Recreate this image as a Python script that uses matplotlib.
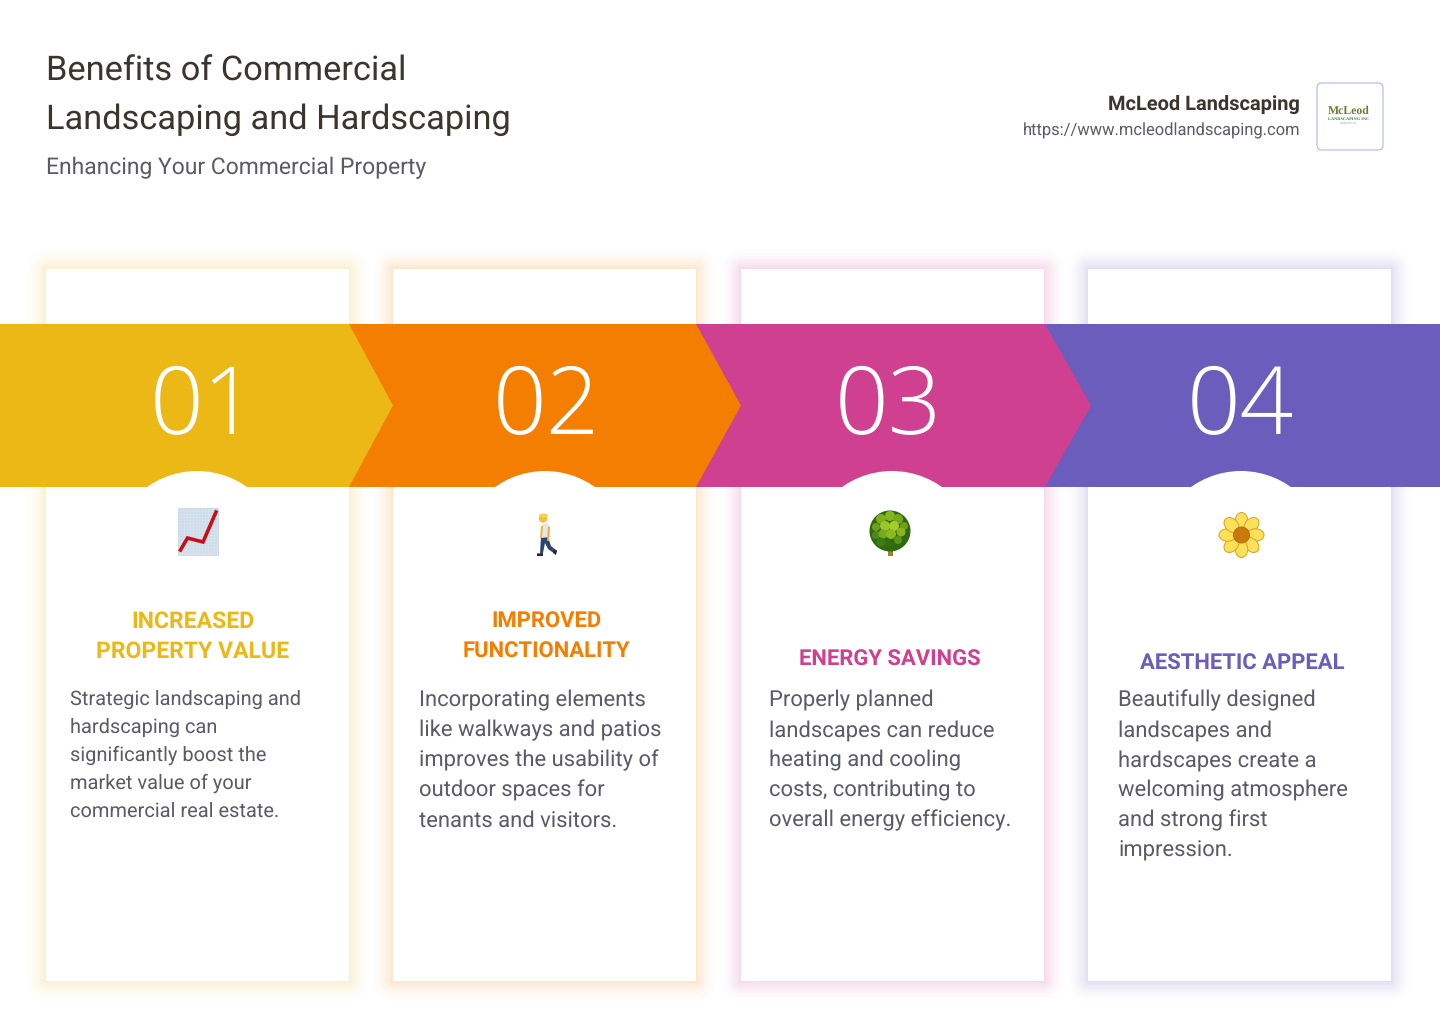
import matplotlib
matplotlib.use('Agg')
import matplotlib.pyplot as plt
import numpy as np
from matplotlib.colors import to_rgb
from matplotlib.patches import Circle, Ellipse, FancyBboxPatch, Polygon, Rectangle

plt.rcParams['font.family'] = ['Roboto', 'DejaVu Sans']
plt.rcParams['text.hinting'] = 'no_hinting'

TITLE_LINES = ['Benefits of Commercial', 'Landscaping and Hardscaping']
SUBTITLE = 'Enhancing Your Commercial Property'
BRAND = 'McLeod Landscaping'
URL = 'https://www.mcleodlandscaping.com'

numbers = ['01', '02', '03', '04']
colors = ['#ECB815', '#F47E00', '#D04090', '#6A5DBB']
headings = [
    ['INCREASED', 'PROPERTY VALUE'],
    ['IMPROVED', 'FUNCTIONALITY'],
    ['ENERGY SAVINGS'],
    ['AESTHETIC APPEAL'],
]
bodies = [
    ['Strategic landscaping and', 'hardscaping can', 'significantly boost the',
     'market value of your', 'commercial real estate.'],
    ['Incorporating elements', 'like walkways and patios', 'improves the usability of',
     'outdoor spaces for', 'tenants and visitors.'],
    ['Properly planned', 'landscapes can reduce', 'heating and cooling',
     'costs, contributing to', 'overall energy efficiency.'],
    ['Beautifully designed', 'landscapes and', 'hardscapes create a',
     'welcoming atmosphere', 'and strong first', 'impression.'],
]

# layout in pixels
card_left = [46, 393, 741, 1088]
CARD_W = 303
CARD_TOP, CARD_BOTTOM = 269, 981
BAND_TOP, BAND_BOTTOM = 324, 487
band_start = [0, 349, 696, 1045]
band_end = [349, 696, 1045, 1440]
tip_x = [393, 741, 1091, None]
number_x = [203, 546, 888, 1240]
arc_x = [197, 545, 892, 1241]
heading_x = [193, 546, 890, 1242]
heading_base = [[627.4, 657.4], [627.4, 657.4], [665.4], [669.4]]
heading_size = [23, 22, 22, 22]
body_x = [70, 419, 769, 1118]
body_base = [705, 706.3, 706.3, 706.3]
body_step = [28, 30, 30, 30]
body_size = [20, 22, 22, 22]

fig = plt.figure(figsize=(14.4, 10.24), dpi=100)
ax = fig.add_axes([0, 0, 1, 1])
ax.set_xlim(0, 1440)
ax.set_ylim(1024, 0)
ax.axis('off')


def px(size):
    return size * 0.72


def draw_shadow(x, color, reach=24, strength=0.2):
    # soft glow, built from the distance to the card edge
    xs = np.arange(x - reach, x + CARD_W + reach) + 0.5
    ys = np.arange(CARD_TOP - reach, CARD_BOTTOM + reach) + 0.5
    dx = np.maximum(np.maximum(x - xs, xs - (x + CARD_W)), 0)
    dy = np.maximum(np.maximum(CARD_TOP - ys, ys - CARD_BOTTOM), 0)
    dist = np.hypot(*np.meshgrid(dx, dy))
    img = np.zeros(dist.shape + (4,))
    img[..., :3] = to_rgb(color)
    img[..., 3] = strength * np.clip(1 - dist / reach, 0, 1) ** 2
    ax.imshow(img, extent=(xs[0] - 0.5, xs[-1] + 0.5, ys[-1] + 0.5, ys[0] - 0.5),
              aspect='auto', interpolation='nearest', zorder=1)


def icon_chart():
    ax.add_patch(Rectangle((178, 508), 40, 47, fc='#DCE4EC', ec='#CBD3DB', lw=0.5, zorder=6))
    for gx in range(180, 218, 3):
        ax.plot([gx, gx], [508, 555], color='#BCD6EC', lw=0.35, zorder=6)
    for gy in range(510, 555, 3):
        ax.plot([178, 218], [gy, gy], color='#BCD6EC', lw=0.35, zorder=6)
    ax.plot([180.5, 187.5, 203, 216], [550, 538, 542, 512], color='#C8101A', lw=2.6,
            solid_joinstyle='miter', zorder=7)


def icon_walker():
    # jeans
    ax.add_patch(Polygon([[541, 537], [548, 537], [551, 546], [557, 551], [555, 554], [548, 549],
                          [545, 543], [543, 553], [540, 553]], fc='#2F4476', ec='none', zorder=6))
    ax.add_patch(Polygon([[537, 553.5], [543, 553], [543, 556], [537, 556]], fc='#1F2A44', ec='none', zorder=7))
    ax.add_patch(Polygon([[554, 549], [557, 551], [556, 555], [553, 553]], fc='#1F2A44', ec='none', zorder=7))
    # shirt and arm
    ax.add_patch(Polygon([[542, 524], [548, 523], [550, 537], [541, 538]], fc='#E3E6EA', ec='none', zorder=7))
    ax.add_patch(Polygon([[541, 526], [543, 526], [542, 538], [540, 538]], fc='#F3B33D', ec='none', zorder=8))
    ax.add_patch(Polygon([[548, 526], [550, 527], [549, 541], [547, 541]], fc='#F0AE2E', ec='none', zorder=8))
    # head and hair
    ax.add_patch(Circle((543, 518.5), 4.2, fc='#F6BE3B', ec='none', zorder=8))
    ax.add_patch(Ellipse((543.5, 515.5), 9, 4, fc='#F9D14A', ec='none', zorder=9))


def icon_tree():
    ax.add_patch(Rectangle((888, 547), 5, 9, fc='#A08020', ec='none', zorder=6))
    ax.add_patch(Circle((890, 531), 20.5, fc='#2F6A10', ec='none', zorder=7))
    blobs = [(881, 519, 5, '#7FAF1C'), (890, 516, 5, '#86B51E'), (898, 519, 5, '#78A81C'),
             (904, 526, 4, '#6FA01A'), (876, 527, 4, '#6FA01A'), (885, 526, 5, '#9CC62A'),
             (894, 526, 5, '#A4CC2C'), (901, 532, 4.5, '#86B51E'), (876, 535, 4, '#4F8A16'),
             (883, 534, 4.5, '#7BAA1C'), (891, 534, 5, '#8ABA22'), (898, 540, 4, '#5A9418'),
             (881, 542, 4.5, '#3F7A14'), (889, 543, 3.5, '#356E12')]
    for bx, by, br, bc in blobs:
        ax.add_patch(Circle((bx, by), br, fc=bc, ec='none', zorder=8))


def icon_flower():
    cx, cy = 1241.5, 535
    offsets = [(0, -14, 0), (10, -10, 45), (14, 0, 90), (10, 10, -45),
               (0, 14, 0), (-10, 10, 45), (-14, 0, 90), (-10, -10, -45)]
    for dx, dy, ang in offsets:
        ax.add_patch(Ellipse((cx + dx, cy + dy), 12.5, 17, angle=ang, fc='#FBE05A', ec='#D9A21E',
                             lw=0.7, zorder=6))
    ax.add_patch(Circle((cx, cy), 8, fc='#C9780E', ec='#B5650A', lw=0.6, zorder=7))


fig.patch.set_facecolor('white')

for x, c in zip(card_left, colors):
    draw_shadow(x, c)
ax.set_xlim(0, 1440)
ax.set_ylim(1024, 0)
for x in card_left:
    ax.add_patch(Rectangle((x, CARD_TOP), CARD_W, CARD_BOTTOM - CARD_TOP, fc='white', ec='none', zorder=2))

# draw from the right so each arrow tip sits on the next band
for i in range(3, -1, -1):
    mid = (BAND_TOP + BAND_BOTTOM) / 2
    if tip_x[i] is None:
        pts = [[band_start[i], BAND_TOP], [band_end[i], BAND_TOP],
               [band_end[i], BAND_BOTTOM], [band_start[i], BAND_BOTTOM]]
    else:
        pts = [[band_start[i], BAND_TOP], [band_end[i], BAND_TOP], [tip_x[i], mid],
               [band_end[i], BAND_BOTTOM], [band_start[i], BAND_BOTTOM]]
    ax.add_patch(Polygon(pts, fc=colors[i], ec='none', zorder=3 + (3 - i) * 0.1))
    ax.text(number_x[i], 434.5, numbers[i], color='white', fontsize=px(94), fontweight='light',
            family=['Open Sans', 'DejaVu Sans'], ha='center', va='baseline', zorder=5)
    circ = Circle((arc_x[i], 557), 86, fc='white', ec='none', zorder=4)
    ax.add_patch(circ)

icon_chart()
icon_walker()
icon_tree()
icon_flower()

for i in range(4):
    for line, y in zip(headings[i], heading_base[i]):
        ax.text(heading_x[i], y, line, color=colors[i], fontsize=px(heading_size[i]), fontweight='bold',
                ha='center', va='baseline', zorder=6)
    for j, line in enumerate(bodies[i]):
        ax.text(body_x[i], body_base[i] + j * body_step[i], line, color='#5A5A68',
                fontsize=px(body_size[i]), ha='left', va='baseline', zorder=6)

# header
ax.text(45.5, 80.6, TITLE_LINES[0], color='#3B352C', fontsize=px(34.4), ha='left', va='baseline')
ax.text(45.5, 129, TITLE_LINES[1], color='#3B352C', fontsize=px(34.4), ha='left', va='baseline')
ax.text(46, 174, SUBTITLE, color='#5A5A68', fontsize=px(22.9), ha='left', va='baseline')
ax.text(1300, 110, BRAND, color='#3B352C', fontsize=px(20), fontweight='bold', ha='right', va='baseline')
ax.text(1300, 135, URL, color='#5A5A68', fontsize=px(16.5), ha='right', va='baseline')

# logo box
ax.add_patch(FancyBboxPatch((1319, 85), 62, 63, boxstyle='round,pad=2,rounding_size=5',
                            fc='white', ec='#A8A8F0', lw=0.7, zorder=3))
ax.text(1349, 114, 'McLeod', color='#6F7A2E', fontsize=8.5, fontweight='bold',
        family=['Liberation Serif'], ha='center', va='baseline', zorder=4)
ax.text(1349, 119.5, 'LANDSCAPING INC', color='#2E7D3A', fontsize=3.2, fontweight='bold',
        family=['Liberation Serif'], ha='center', va='baseline', zorder=4)
ax.text(1349, 123.5, 'COMMERCIAL', color='#AAAAAA', fontsize=2, ha='center', va='baseline', zorder=4)

fig.savefig('out.png', dpi=100)
